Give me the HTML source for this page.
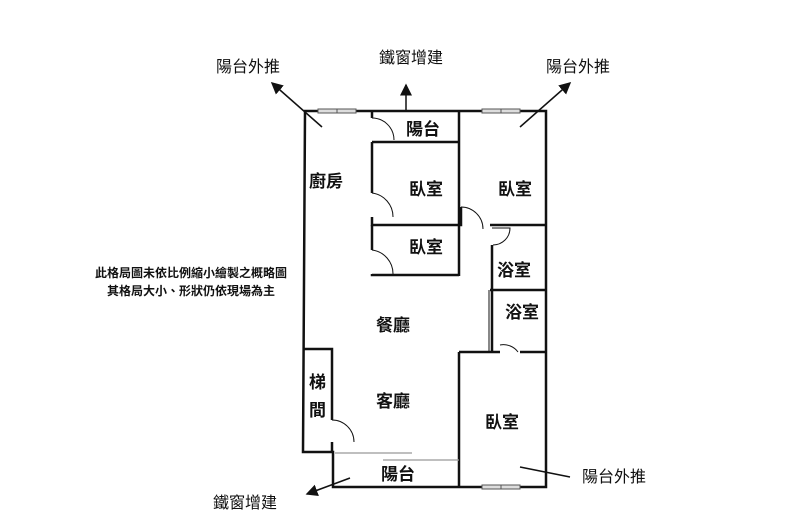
<!DOCTYPE html>
<html><head><meta charset="utf-8"><style>
body{margin:0;background:#fff}
svg{display:block}
text{font-family:"Liberation Sans","Noto Sans CJK TC",sans-serif;fill:#111}
</style></head><body>
<svg width="800" height="530" viewBox="0 0 800 530" xmlns="http://www.w3.org/2000/svg">
<defs><marker id="ah" markerWidth="8" markerHeight="8" refX="7" refY="4" orient="auto"><path d="M0,0 L8,4 L0,8 z" fill="#111"/></marker></defs>
<g stroke="#111" stroke-width="2.5" fill="none">
<path d="M305,111 L303,452 L333,452 L333,487 L546,487 L546,111 Z"/>
<path d="M303,349 L332,349 L332,420"/>
<path d="M332,442 L332,452"/>
<path d="M372,111 L372,118"/>
<path d="M372,142 L459,142"/>
<path d="M459,111 L459,276"/>
<path d="M372,142 L372,193"/>
<path d="M372,217 L372,225 L459,225"/>
<path d="M372,225 L372,250"/>
<path d="M372,274 L372,275 L459,275"/>
<path d="M461,207 L461,225 L459,225"/>
<path d="M490,225 L546,225"/>
<path d="M492,245 L492,352"/>
<path d="M490,290 L546,290"/>
<path d="M459,352 L500,352"/>
<path d="M520,352 L546,352"/>
<path d="M459,352 L459,487"/>
</g>
<g stroke="#111" stroke-width="1" fill="none">
<path d="M372,118 A22,22 0 0 1 394,140"/>
<path d="M372,193 A24,24 0 0 1 393,217"/>
<path d="M372,250 A24,24 0 0 1 393,274"/>
<path d="M461,207 A22,22 0 0 1 483,229"/>
<path d="M492,228 L510,228 A17,17 0 0 1 493,245"/>
<path d="M500,345 A18,18 0 0 1 518,352"/>
<path d="M332,420 A22,22 0 0 1 354,442"/>
<path d="M489,290 L489,352"/>
</g>
<g stroke="#999" stroke-width="1.2">
<line x1="335" y1="453" x2="412" y2="453"/>
<line x1="383" y1="460" x2="459" y2="460"/>
</g>
<g stroke="#555" stroke-width="1" fill="#ddd">
<rect x="318" y="109" width="38" height="4"/><line x1="337" y1="109" x2="337" y2="113"/>
<rect x="482" y="109" width="38" height="4"/><line x1="501" y1="109" x2="501" y2="113"/>
<rect x="482" y="485" width="38" height="4"/><line x1="501" y1="485" x2="501" y2="489"/>
</g>
<g stroke="#111" stroke-width="1.5">
<line x1="322" y1="127" x2="272" y2="83" marker-end="url(#ah)"/>
<line x1="406" y1="110" x2="406" y2="85" marker-end="url(#ah)"/>
<line x1="520" y1="127" x2="570" y2="83" marker-end="url(#ah)"/>
<line x1="350" y1="478" x2="307" y2="494" marker-end="url(#ah)"/>
<line x1="520" y1="467" x2="570" y2="477"/>
</g>
<g font-size="17" font-weight="bold">
<text x="406" y="135">陽台</text>
<text x="309" y="187">廚房</text>
<text x="409" y="195">臥室</text>
<text x="498" y="195">臥室</text>
<text x="409" y="253">臥室</text>
<text x="497" y="276">浴室</text>
<text x="505" y="318">浴室</text>
<text x="376" y="331">餐廳</text>
<text x="309" y="388">梯</text>
<text x="309" y="416">間</text>
<text x="376" y="407">客廳</text>
<text x="485" y="428">臥室</text>
<text x="381" y="480">陽台</text>
</g>
<g font-size="16">
<text x="216" y="72">陽台外推</text>
<text x="379" y="63">鐵窗增建</text>
<text x="546" y="72">陽台外推</text>
<text x="213" y="508">鐵窗增建</text>
<text x="582" y="482">陽台外推</text>
</g>
<g font-size="12" font-weight="bold">
<text x="95" y="277">此格局圖未依比例縮小繪製之概略圖</text>
<text x="107" y="295">其格局大小、形狀仍依現場為主</text>
</g>
</svg>
</body></html>
